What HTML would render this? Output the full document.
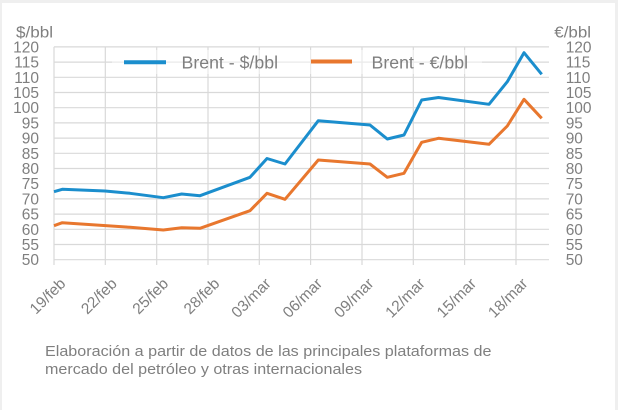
<!DOCTYPE html>
<html>
<head>
<meta charset="utf-8">
<style>
  html,body{margin:0;padding:0;background:#efefef;}
  body{width:618px;height:410px;overflow:hidden;position:relative;}
  .card{position:absolute;left:2px;top:3px;width:613px;height:407px;background:#fff;}
  svg{position:absolute;left:0;top:0;}
  text{font-family:"Liberation Sans",Arial,sans-serif;fill:#7f7f7f;}
</style>
</head>
<body>
<div class="card"></div>
<svg width="618" height="410" viewBox="0 0 618 410" xmlns="http://www.w3.org/2000/svg">
  <!-- horizontal gridlines -->
  <g stroke="#d9d9d9" stroke-width="1.2">
    <line x1="54" y1="46.9" x2="549" y2="46.9"/>
    <line x1="54" y1="62.1" x2="549" y2="62.1"/>
    <line x1="54" y1="77.3" x2="549" y2="77.3"/>
    <line x1="54" y1="92.5" x2="549" y2="92.5"/>
    <line x1="54" y1="107.7" x2="549" y2="107.7"/>
    <line x1="54" y1="122.9" x2="549" y2="122.9"/>
    <line x1="54" y1="138.1" x2="549" y2="138.1"/>
    <line x1="54" y1="153.3" x2="549" y2="153.3"/>
    <line x1="54" y1="168.5" x2="549" y2="168.5"/>
    <line x1="54" y1="183.7" x2="549" y2="183.7"/>
    <line x1="54" y1="198.9" x2="549" y2="198.9"/>
    <line x1="54" y1="214.1" x2="549" y2="214.1"/>
    <line x1="54" y1="229.3" x2="549" y2="229.3"/>
    <line x1="54" y1="244.5" x2="549" y2="244.5"/>
    <line x1="54" y1="259.7" x2="549" y2="259.7"/>
    <!-- vertical gridlines -->
    <line x1="54" y1="46.9" x2="54" y2="265"/>
    <line x1="105.3" y1="46.9" x2="105.3" y2="265"/>
    <line x1="156.7" y1="46.9" x2="156.7" y2="265"/>
    <line x1="208" y1="46.9" x2="208" y2="265"/>
    <line x1="259.3" y1="46.9" x2="259.3" y2="265"/>
    <line x1="310.6" y1="46.9" x2="310.6" y2="265"/>
    <line x1="362" y1="46.9" x2="362" y2="265"/>
    <line x1="413.3" y1="46.9" x2="413.3" y2="265"/>
    <line x1="464.6" y1="46.9" x2="464.6" y2="265"/>
    <line x1="516" y1="46.9" x2="516" y2="265"/>
  </g>

  <!-- legend backdrop -->
  <rect x="112" y="50" width="370" height="24" fill="#ffffff" fill-opacity="0.45"/>

  <!-- series -->
  <polyline fill="none" stroke="#e8772e" stroke-width="3" stroke-linejoin="round"
    points="54,225.7 62.3,222.7 130,227.3 163.3,230 181.7,227.7 200,228.3 250,210.7 267,193.3 285,199.3 318.3,160 370,164 387.3,177.3 404,173.3 421.7,142.3 438.5,138.3 489,144.3 507.3,126 524,99.3 541.7,118.3"/>
  <polyline fill="none" stroke="#1b8ecd" stroke-width="3" stroke-linejoin="round"
    points="54,191.7 62.3,189.3 105,191 130,193.3 163.3,197.7 181.7,194 200,195.7 250,177.3 267,158.5 285,164 318.3,120.7 370,125 387.3,139 404,135 421.7,100 438.5,97.5 489,104.3 507.3,81.7 524,52.7 541.7,74.3"/>

  <!-- legend -->
  <line x1="124" y1="62.3" x2="166" y2="62.3" stroke="#1b8ecd" stroke-width="4"/>
  <text x="181.5" y="68.3" font-size="17.5" textLength="96.5" lengthAdjust="spacingAndGlyphs">Brent - $/bbl</text>
  <line x1="311" y1="61.5" x2="352" y2="61.5" stroke="#e8772e" stroke-width="4"/>
  <text x="371.5" y="68.3" font-size="17.5" textLength="96.5" lengthAdjust="spacingAndGlyphs">Brent - €/bbl</text>

  <!-- axis titles -->
  <text x="16" y="37.3" font-size="15.5" textLength="37" lengthAdjust="spacingAndGlyphs">$/bbl</text>
  <text x="554.3" y="37.3" font-size="15.5" textLength="36.7" lengthAdjust="spacingAndGlyphs">€/bbl</text>

  <!-- left y ticks -->
  <g font-size="15.5" text-anchor="end">
    <text x="39" y="52.4">120</text>
    <text x="39" y="67.6">115</text>
    <text x="39" y="82.8">110</text>
    <text x="39" y="98">105</text>
    <text x="39" y="113.2">100</text>
    <text x="39" y="128.4">95</text>
    <text x="39" y="143.6">90</text>
    <text x="39" y="158.8">85</text>
    <text x="39" y="174">80</text>
    <text x="39" y="189.2">75</text>
    <text x="39" y="204.4">70</text>
    <text x="39" y="219.6">65</text>
    <text x="39" y="234.8">60</text>
    <text x="39" y="250">55</text>
    <text x="39" y="265.2">50</text>
  </g>
  <!-- right y ticks -->
  <g font-size="15.5" text-anchor="start">
    <text x="565.7" y="52.4">120</text>
    <text x="565.7" y="67.6">115</text>
    <text x="565.7" y="82.8">110</text>
    <text x="565.7" y="98">105</text>
    <text x="565.7" y="113.2">100</text>
    <text x="565.7" y="128.4">95</text>
    <text x="565.7" y="143.6">90</text>
    <text x="565.7" y="158.8">85</text>
    <text x="565.7" y="174">80</text>
    <text x="565.7" y="189.2">75</text>
    <text x="565.7" y="204.4">70</text>
    <text x="565.7" y="219.6">65</text>
    <text x="565.7" y="234.8">60</text>
    <text x="565.7" y="250">55</text>
    <text x="565.7" y="265.2">50</text>
  </g>

  <!-- x labels -->
  <g font-size="15.5" text-anchor="end">
    <text transform="translate(66.5,284.5) rotate(-45)">19/feb</text>
    <text transform="translate(117.8,284.5) rotate(-45)">22/feb</text>
    <text transform="translate(169.2,284.5) rotate(-45)">25/feb</text>
    <text transform="translate(220.5,284.5) rotate(-45)">28/feb</text>
    <text transform="translate(271.8,284.5) rotate(-45)">03/mar</text>
    <text transform="translate(323.1,284.5) rotate(-45)">06/mar</text>
    <text transform="translate(374.5,284.5) rotate(-45)">09/mar</text>
    <text transform="translate(425.8,284.5) rotate(-45)">12/mar</text>
    <text transform="translate(477.1,284.5) rotate(-45)">15/mar</text>
    <text transform="translate(528.5,284.5) rotate(-45)">18/mar</text>
  </g>

  <!-- caption -->
  <text x="45" y="356" font-size="15" textLength="446.5" lengthAdjust="spacingAndGlyphs">Elaboración a partir de datos de las principales plataformas de</text>
  <text x="45" y="374" font-size="15" textLength="317" lengthAdjust="spacingAndGlyphs">mercado del petróleo y otras internacionales</text>
</svg>
</body>
</html>
